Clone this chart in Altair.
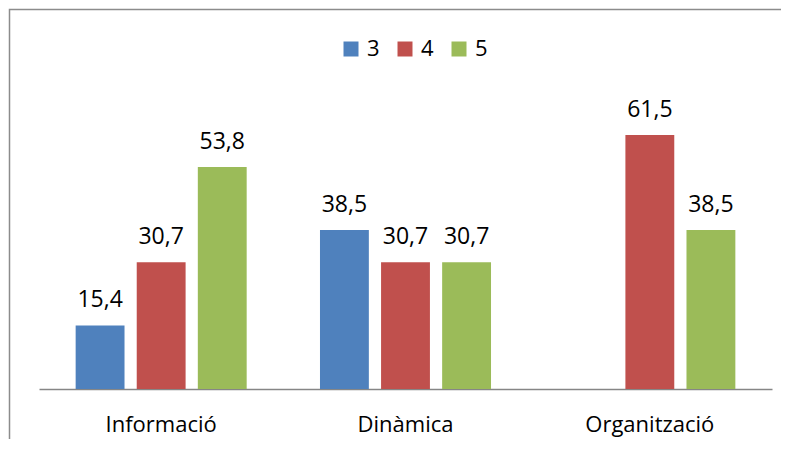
import altair as alt
import pandas as pd

categories = ["Informació", "Dinàmica", "Organització"]
series = ["3", "4", "5"]
values_3 = [15.4, 38.5, None]
values_4 = [30.7, 30.7, 61.5]
values_5 = [53.8, 30.7, 38.5]
colors = ["#4F81BD", "#C0504D", "#9BBB59"]

rows = []
for s, vals in zip(series, [values_3, values_4, values_5]):
    for c, v in zip(categories, vals):
        if v is None:
            continue
        rows.append({"cat": c, "serie": s, "value": v,
                     "label": f"{v:.1f}".replace(".", ",")})
df = pd.DataFrame(rows)

FONT = "Open Sans"

x_enc = alt.X("cat:N", sort=categories, title=None,
              scale=alt.Scale(paddingInner=0, paddingOuter=0),
              axis=alt.Axis(labelAngle=0, labelFontSize=22, labelFont=FONT,
                            labelColor="#000000", ticks=False, labelPadding=25,
                            domainColor="#868686", domainWidth=1.5, grid=False))
xo_enc = alt.XOffset("serie:N", sort=series,
                     scale=alt.Scale(paddingInner=0.2, paddingOuter=0.6))
y_enc = alt.Y("value:Q", scale=alt.Scale(domain=[0, 70]), axis=None)

bars = alt.Chart(df).mark_bar().encode(
    x=x_enc, xOffset=xo_enc, y=y_enc,
    color=alt.Color("serie:N", sort=series,
                    scale=alt.Scale(domain=series, range=colors),
                    legend=alt.Legend(title=None, orient="none", direction="horizontal",
                                      legendX=301, legendY=-62, symbolType="square",
                                      symbolSize=225, symbolStrokeWidth=0,
                                      labelFontSize=22, labelFont=FONT,
                                      labelColor="#000000", labelOffset=5,
                                      columnPadding=14, padding=0)),
)

text = alt.Chart(df).mark_text(baseline="alphabetic", dy=-18, fontSize=23,
                               font=FONT, color="#000000").encode(
    x=x_enc, xOffset=xo_enc, y=y_enc, text="label:N")

border = alt.Chart(alt.Data(values=[{"a": 1}])).mark_rect(
    fill=None, stroke="#8C8C8C", strokeWidth=1.5).encode(
    x=alt.value(-29.5), x2=alt.value(900), y=alt.value(-90.5), y2=alt.value(600))

chart = alt.layer(border, bars, text).properties(
    width=733, height=289,
    autosize=alt.AutoSizeParams(type="none"),
    padding={"left": 31, "top": 92, "right": 9, "bottom": 50},
    background="white",
).configure_view(stroke=None)

chart.save("out.html", embed_options={"renderer": "svg", "actions": False})
